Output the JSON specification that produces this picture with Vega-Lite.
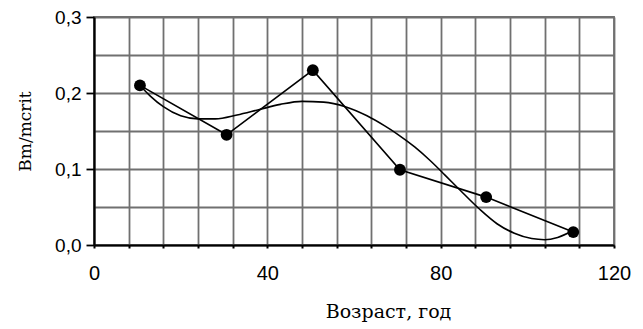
{
  "$schema": "https://vega.github.io/schema/vega-lite/v6.json",
  "width": 520,
  "height": 228,
  "autosize": {"type": "none"},
  "padding": {"left": 94, "top": 17, "right": 29, "bottom": 84},
  "background": "white",
  "config": {
    "view": {"stroke": "#707070", "strokeWidth": 1.8},
    "axis": {"labelFont": "Liberation Sans", "titleFont": "DejaVu Serif", "labelColor": "black", "titleColor": "black", "titleFontWeight": "normal"}
  },
  "datasets": {
    "points": [
      {"age": 10.6, "value": 0.21},
      {"age": 30.6, "value": 0.145},
      {"age": 50.5, "value": 0.23},
      {"age": 70.6, "value": 0.099},
      {"age": 90.5, "value": 0.063},
      {"age": 110.6, "value": 0.017}
    ],
    "trend": [
      {"age": 10.6, "value": 0.21},
      {"age": 13, "value": 0.196},
      {"age": 16, "value": 0.182},
      {"age": 20, "value": 0.170},
      {"age": 24, "value": 0.166},
      {"age": 28, "value": 0.166},
      {"age": 33, "value": 0.171},
      {"age": 38, "value": 0.178},
      {"age": 43, "value": 0.185},
      {"age": 48, "value": 0.189},
      {"age": 53, "value": 0.188},
      {"age": 58, "value": 0.182},
      {"age": 63, "value": 0.170},
      {"age": 67, "value": 0.157},
      {"age": 70, "value": 0.146},
      {"age": 74, "value": 0.129},
      {"age": 77.5, "value": 0.1115},
      {"age": 81, "value": 0.092},
      {"age": 84.5, "value": 0.072},
      {"age": 89, "value": 0.047},
      {"age": 93, "value": 0.028},
      {"age": 97, "value": 0.0155},
      {"age": 101, "value": 0.0085},
      {"age": 104, "value": 0.007},
      {"age": 107, "value": 0.010},
      {"age": 110.6, "value": 0.019}
    ]
  },
  "encoding": {
    "x": {
      "field": "age", "type": "quantitative",
      "scale": {"domain": [0, 120], "nice": false},
      "axis": {
        "title": "Возраст, год",
        "values": [0, 8, 16, 24, 32, 40, 48, 56, 64, 72, 80, 88, 96, 104, 112, 120],
        "labelExpr": "datum.value % 40 === 0 ? datum.label : ''",
        "labelFlush": false,
        "grid": true, "gridColor": "#707070", "gridWidth": 1.8, "gridOpacity": 1,
        "domainColor": "black", "domainWidth": 2.2,
        "tickColor": "black", "tickSize": 3, "tickWidth": 2,
        "labelFontSize": 20, "labelPadding": 15,
        "titleFontSize": 19, "titleX": 294, "titleY": 66, "titleBaseline": "middle"
      }
    },
    "y": {
      "field": "value", "type": "quantitative",
      "scale": {"domain": [0, 0.3], "nice": false},
      "axis": {
        "title": "Bm/mcrit",
        "values": [0, 0.05, 0.1, 0.15, 0.2, 0.25, 0.3],
        "labelExpr": "round(datum.value * 100) % 10 === 0 ? replace(format(datum.value, '.1f'), '.', ',') : ''",
        "labelFlush": false,
        "grid": true, "gridColor": "#707070", "gridWidth": 1.8, "gridOpacity": 1,
        "domainColor": "black", "domainWidth": 2.2,
        "tickColor": "black", "tickSize": 8, "tickWidth": 1.8,
        "tickOpacity": {"condition": {"test": "round(datum.value * 100) % 10 === 0", "value": 1}, "value": 0},
        "labelFontSize": 19, "labelPadding": 5,
        "titleFontSize": 17, "titleX": -69, "titleY": 114, "titleAngle": -90, "titleAlign": "center", "titleBaseline": "middle"
      }
    }
  },
  "layer": [
    {
      "data": {"name": "trend"},
      "mark": {"type": "line", "interpolate": "monotone", "color": "black", "strokeWidth": 1.6}
    },
    {
      "data": {"name": "points"},
      "mark": {"type": "line", "color": "black", "strokeWidth": 1.6}
    },
    {
      "data": {"name": "points"},
      "mark": {"type": "point", "filled": true, "color": "black", "opacity": 1, "size": 140}
    }
  ]
}
